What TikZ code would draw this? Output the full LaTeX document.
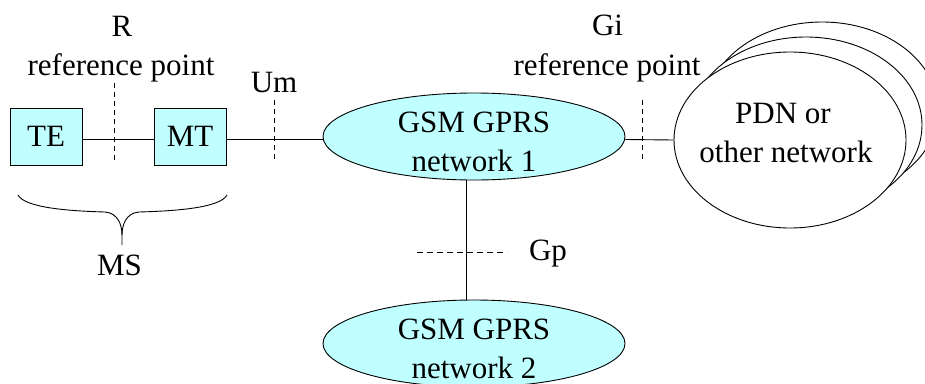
\documentclass[tikz,border=0pt]{standalone}
\usepackage{fontspec}
\setmainfont{Liberation Serif}
\usetikzlibrary{shapes.geometric}
\definecolor{netcyan}{RGB}{192,255,255}
\begin{document}
\begin{tikzpicture}[x=1pt,y=-1pt,line width=0.9pt,
  lbl/.style={font=\fontsize{31}{39}\selectfont,anchor=base,inner sep=0pt},
  box/.style={draw,fill=netcyan,minimum width=72pt,minimum height=57pt,inner sep=0pt,font=\fontsize{31}{39}\selectfont},
  net/.style={draw,ellipse,fill=netcyan,minimum width=302pt,minimum height=87pt,inner sep=0pt},
  pdn/.style={draw,ellipse,fill=white,minimum width=232pt,minimum height=176pt,inner sep=0pt},
  refline/.style={dash pattern=on 5pt off 4pt,line width=0.7pt}]
\useasboundingbox (0,0) rectangle (925,383);

% boxes
\node[box] (te) at (46,136.5) {TE};
\node[box] (mt) at (190,136.5) {MT};

% networks
\node[net] (e1) at (474,136.5) {};
\node[net] (e2) at (474,343.5) {};
\node[pdn] (pdn3) at (822,110) {};
\node[pdn] (pdn2) at (806,125) {};
\node[pdn] (pdn) at (790,140) {};

% connectors
\draw ([yshift=-3pt]te.east) -- ([yshift=-3pt]mt.west);
\draw ([yshift=-3pt]mt.east) -- ([yshift=-3pt]e1.west);
\draw ([yshift=-3pt]e1.east) -- (pdn.west);
\draw ([xshift=-8pt]e1.south) -- ([xshift=-8pt]e2.north);

% reference point markers
\coordinate (rT) at (114,83);  \coordinate (rB) at (114,163);
\coordinate (uT) at (274,100); \coordinate (uB) at (274,163);
\coordinate (gT) at (642,100); \coordinate (gB) at (642,163);
\coordinate (pL) at (417,252); \coordinate (pR) at (507,252);
\draw[refline] (rT) -- (rB);
\draw[refline] (uT) -- (uB);
\draw[refline] (gT) -- (gB);
\draw[refline,dash pattern=on 6pt off 4pt] (pL) -- (pR);

% labels
\node[lbl] (rlab) at (122,36) {R};
\node[lbl] (rref) at (121,75) {reference point};
\node[lbl] (um) at (274,92) {Um};
\node[lbl] (gi) at (607.5,35) {Gi};
\node[lbl] (giref) at (607,75) {reference point};
\node[lbl] (n1a) at (474,132) {GSM GPRS};
\node[lbl] (n1b) at (474,171) {network 1};
\node[lbl] (n2a) at (474,339) {GSM GPRS};
\node[lbl] (n2b) at (474,378) {network 2};
\node[lbl] (pdna) at (783,123) {PDN or};
\node[lbl] (pdnb) at (786,162) {other network};
\node[lbl] (gp) at (548,260) {Gp};
\node[lbl] (ms) at (119.5,275) {MS};

% MS brace
\coordinate (bL) at (18,195);
\coordinate (bR) at (227,195);
\coordinate (bTip) at (122,245);
\draw (bL) .. controls (25,208) and (70,211) .. (105,212)
      .. controls (118,213) and (122,225) .. (122,235) -- (bTip);
\draw (bR) .. controls (220,208) and (175,211) .. (139,212)
      .. controls (126,213) and (122,225) .. (122,235);
\end{tikzpicture}
\end{document}
